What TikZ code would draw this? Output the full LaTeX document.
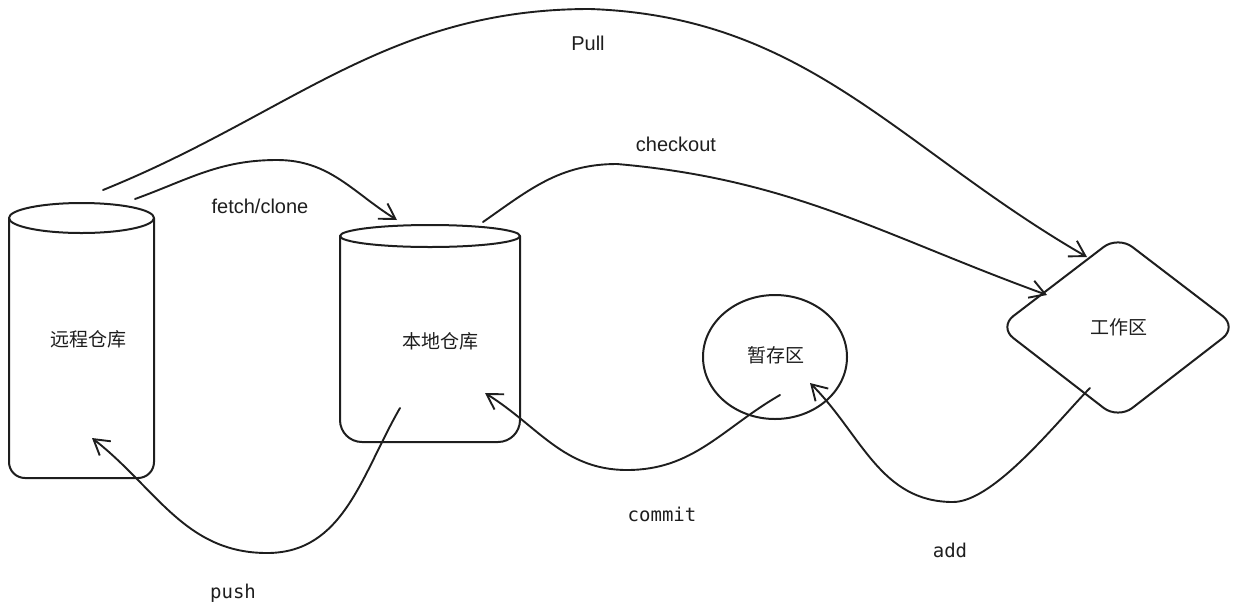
\documentclass[tikz,border=0pt]{standalone}
\usepackage{fontspec}
\newfontfamily\cjk{Noto Sans CJK SC}
\newfontfamily\hand{Liberation Sans}
\newfontfamily\mono{DejaVu Sans Mono}
\usetikzlibrary{arrows.meta}
\definecolor{ink}{HTML}{1E1E1E}
\begin{document}
\begin{tikzpicture}[x=1pt,y=1pt,
  shapeline/.style={draw=ink, line width=2pt, line join=round, line cap=round},
  conn/.style={draw=ink, line width=1.9pt, line cap=round,
    -{Straight Barb[length=15pt,width=18pt,line width=1.9pt]}},
  cjklabel/.style={font=\cjk\fontsize{19}{23}\selectfont, text=ink},
  handlabel/.style={font=\hand\fontsize{20}{24}\selectfont, text=ink},
  monolabel/.style={font=\mono\fontsize{19}{23}\selectfont, text=ink},
]
\useasboundingbox (0,0) rectangle (1247,-614);

% remote repository (cylinder)
\draw[shapeline] (9,-218) -- (9,-462) to[out=-90,in=180] (25,-478) -- (138,-478)
  to[out=0,in=-90] (154,-462) -- (154,-218);
\draw[shapeline] (81.5,-218) ellipse [x radius=72.5, y radius=15];

% local repository (cylinder)
\draw[shapeline] (340,-236) -- (340,-420) to[out=-90,in=180] (362,-442) -- (498,-442)
  to[out=0,in=-90] (520,-420) -- (520,-236);
\draw[shapeline] (430,-236) ellipse [x radius=90, y radius=11];

% staging area (circle)
\draw[shapeline] (775,-357) ellipse [x radius=72, y radius=62];

% working directory (diamond)
\draw[shapeline, rounded corners=18pt] (999,-327) -- (1118,-236) -- (1237,-327)
  -- (1118,-419) -- cycle;

% node texts
\node[cjklabel] (remote) at (88,-339) {远程仓库};
\node[cjklabel] (local) at (440,-341) {本地仓库};
\node[cjklabel] (stage) at (776,-355) {暂存区};
\node[cjklabel] (work) at (1119,-327) {工作区};

% connector end points
\coordinate (pullS) at (103,-190);
\coordinate (pullE) at (1087,-257);
\coordinate (fetchS) at (135,-199);
\coordinate (fetchE) at (397,-220);
\coordinate (coS) at (483,-222);
\coordinate (coE) at (1047,-295);
\coordinate (pushS) at (400,-408);
\coordinate (pushE) at (92,-438);
\coordinate (commitS) at (780,-395);
\coordinate (commitE) at (485,-393);
\coordinate (addS) at (1090,-388);
\coordinate (addE) at (810,-383);

% connectors
\draw[conn] (pullS) to[out=22,in=180] (590,-9) to[out=-2,in=150] (pullE);
\draw[conn] (fetchS) to[out=20,in=180] (277,-160) to[out=0,in=148] (fetchE);
\draw[conn] (coS) to[out=35,in=180] (617,-164) to[out=-5,in=160] (coE);
\draw[conn] (pushS) to[out=-120,in=0] (267,-553) to[out=180,in=-38] (pushE);
\draw[conn] (commitS) to[out=-150,in=0] (627,-470) to[out=180,in=-32] (commitE);
\draw[conn] (addS) to[out=-135,in=0,looseness=0.6] (953,-502) to[out=180,in=-45] (addE);

% labels
\node[handlabel] (lpull) at (588,-43) {Pull};
\node[handlabel] (lco) at (676,-144) {checkout};
\node[handlabel] (lfetch) at (260,-206) {fetch/clone};
\node[monolabel] (lcommit) at (662,-514) {commit};
\node[monolabel] (ladd) at (950,-550) {add};
\node[monolabel] (lpush) at (233,-593) {push};
\end{tikzpicture}
\end{document}
